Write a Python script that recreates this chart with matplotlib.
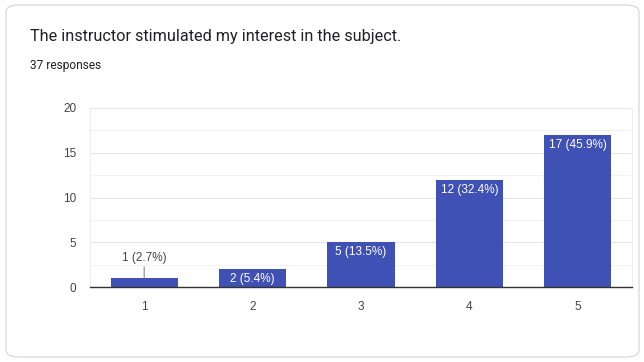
import matplotlib.pyplot as plt
from matplotlib.patches import FancyBboxPatch

plt.rcParams['font.family'] = ['Roboto', 'DejaVu Sans']

title = 'The instructor stimulated my interest in the subject.'
subtitle = '37 responses'
categories = ['1', '2', '3', '4', '5']
counts = [1, 2, 5, 12, 17]
percents = [2.7, 5.4, 13.5, 32.4, 45.9]

chart_font = ['Liberation Sans', 'DejaVu Sans']

fig = plt.figure(figsize=(6.44, 3.62), dpi=100)

# card border
card = FancyBboxPatch((6 / 644, 5 / 362), 633 / 644, 352 / 362,
                      boxstyle='round,pad=0,rounding_size=0.02',
                      transform=fig.transFigure, facecolor='none',
                      edgecolor='#dadce0', linewidth=1, zorder=-1)
fig.patches.append(card)

fig.text(30 / 644, 1 - 37 / 362, title, fontsize=11.7, color='#202124', va='center')
fig.text(30 / 644, 1 - 65 / 362, subtitle, fontsize=8.6, color='#202124', va='center')

ax = fig.add_axes([90 / 644, 75 / 362, 542 / 644, 179 / 362])
ax.set_facecolor('none')
x = range(len(categories))
bars = ax.bar(x, counts, width=0.62, color='#3f51b5', zorder=3)

ax.set_xlim(-0.5, len(categories) - 0.5)
ax.set_ylim(0, 20)
ax.set_yticks([0, 5, 10, 15, 20])
ax.set_yticks([2.5, 7.5, 12.5, 17.5], minor=True)
ax.set_xticks(list(x))
ax.set_xticklabels(categories)
ax.grid(axis='y', which='major', color='#e6e6e6', linewidth=0.8, zorder=0)
ax.grid(axis='y', which='minor', color='#f3f3f3', linewidth=0.8, zorder=0)
ax.tick_params(axis='both', which='both', length=0, labelsize=8.5, colors='#444444')
ax.tick_params(axis='x', pad=10)
ax.tick_params(axis='y', pad=10)
for lab in ax.get_xticklabels() + ax.get_yticklabels():
    lab.set_family(chart_font)

for side in ['left', 'right', 'top']:
    ax.spines[side].set_color('#eeeeee')
    ax.spines[side].set_linewidth(0.8)
ax.spines['top'].set_visible(False)
ax.spines['bottom'].set_color('#333333')
ax.spines['bottom'].set_linewidth(1)
ax.spines['bottom'].set_zorder(4)

for i, (c, p) in enumerate(zip(counts, percents)):
    label = '%d (%.1f%%)' % (c, p)
    if c >= 2:
        ax.annotate(label, (i, c), xytext=(0, -3), textcoords='offset points',
                    ha='center', va='top', fontsize=8.5, color='white', zorder=5,
                    family=chart_font)
    else:
        ax.annotate(label, (i, c), xytext=(0, 10), textcoords='offset points',
                    ha='center', va='bottom', fontsize=8.5, color='#444444', zorder=5,
                    family=chart_font,
                    arrowprops=dict(arrowstyle='-', color='#888888', lw=0.8,
                                    shrinkA=0, shrinkB=0))

fig.savefig('out.png', dpi=100)
